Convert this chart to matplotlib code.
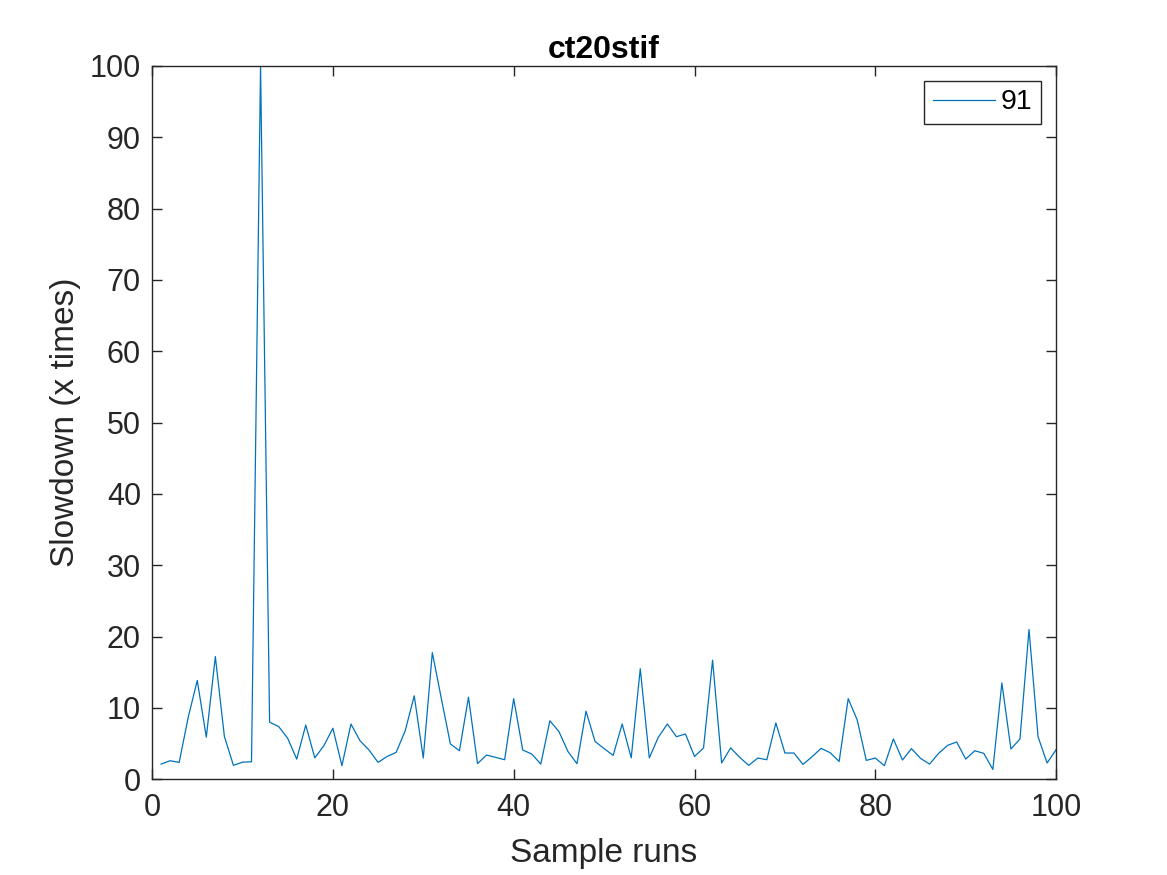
import matplotlib
matplotlib.use("Agg")
import matplotlib.pyplot as plt

runs = list(range(1, 101))
slowdown = [
    2.13, 2.6, 2.37, 8.7, 13.85, 5.9, 17.2, 6.0, 1.95, 2.4,
    2.45, 100.0, 8.0, 7.4, 5.75, 2.83, 7.6, 3.0, 4.7, 7.15,
    1.9, 7.75, 5.4, 4.1, 2.37, 3.2, 3.77, 6.8, 11.7, 2.98,
    17.75, 11.3, 4.95, 4.0, 11.5, 2.2, 3.4, 3.07, 2.74, 11.3,
    4.1, 3.54, 2.13, 8.2, 6.7, 3.9, 2.18, 9.55, 5.3, 4.3,
    3.35, 7.75, 3.0, 15.5, 3.0, 5.9, 7.75, 5.97, 6.35, 3.2,
    4.4, 16.7, 2.3, 4.4, 3.07, 1.95, 2.98, 2.74, 7.9, 3.68,
    3.68, 2.08, 3.16, 4.33, 3.73, 2.5, 11.3, 8.3, 2.65, 2.98,
    1.9, 5.65, 2.7, 4.3, 2.93, 2.13, 3.63, 4.76, 5.23, 2.83,
    4.0, 3.63, 1.38, 13.5, 4.24, 5.65, 21.0, 5.97, 2.28, 4.15,
]
series_label = "91"
title = "ct20stif"
xlabel = "Sample runs"
ylabel = "Slowdown (x times)"
xticks = [0, 20, 40, 60, 80, 100]
yticks = [0, 10, 20, 30, 40, 50, 60, 70, 80, 90, 100]

plt.rcParams['font.family'] = ['Liberation Sans', 'DejaVu Sans']
dark = '#262626'

fig = plt.figure(figsize=(11.67, 8.75), dpi=100)
ax = fig.add_axes([0.1303, 0.1094, 0.7747, 0.8152])
ax.plot(runs, slowdown, color='#0072BD', linewidth=0.9, label=series_label)
ax.set_xlim(0, 100)
ax.set_ylim(0, 100)
ax.set_xticks(xticks)
ax.set_yticks(yticks)
ax.tick_params(direction='in', length=7.2, width=1.0, colors=dark,
               labelsize=22, top=True, right=True, pad=8)
ax.tick_params(axis='x', pad=10)
for s in ax.spines.values():
    s.set_color(dark)
    s.set_linewidth(1.0)
ax.set_title(title, fontsize=23, fontweight='bold', color='black', pad=6)
ax.set_xlabel(xlabel, fontsize=24, color=dark, labelpad=11)
ax.set_ylabel(ylabel, fontsize=24, color=dark, labelpad=6)
leg = ax.legend(loc='upper right', fontsize=20.5, frameon=True, fancybox=False,
                edgecolor=dark, handlelength=2.2, handletextpad=0.2,
                borderpad=0.3, borderaxespad=0.0,
                bbox_to_anchor=(0.9834, 0.979))
leg.get_frame().set_linewidth(1.0)
leg.get_frame().set_alpha(1.0)
fig.savefig('out.png', dpi=100)
